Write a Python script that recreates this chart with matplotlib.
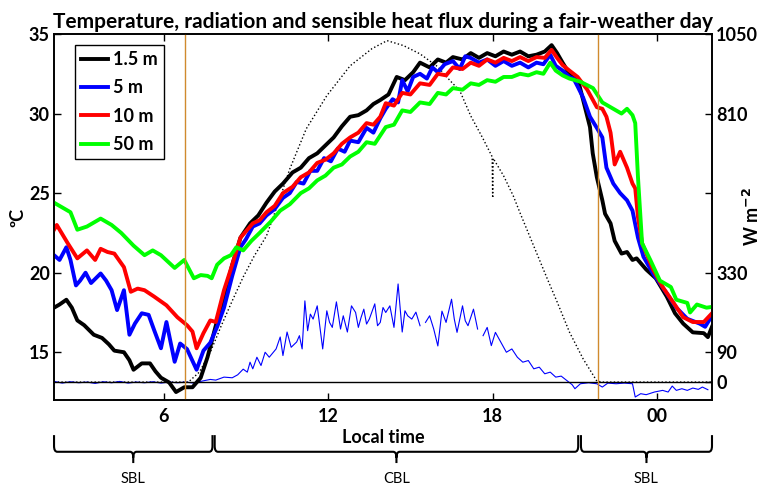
import numpy as np
import matplotlib
matplotlib.use('Agg')
import matplotlib.pyplot as plt
from matplotlib.path import Path
from matplotlib.patches import PathPatch
from matplotlib.transforms import blended_transform_factory

plt.rcParams['font.family'] = ['Lato', 'DejaVu Sans']

# --- Air temperature at four heights (hour, degC) ---
temp_15m = [(2.0, 17.8), (2.2, 18.0), (2.45, 18.3), (2.65, 17.8), (2.85, 17.0), (3.1, 16.7),
            (3.45, 16.1), (3.75, 15.9), (4.0, 15.5), (4.2, 15.1), (4.55, 15.0), (4.75, 14.5),
            (4.9, 13.9), (5.2, 14.3), (5.5, 14.3), (5.7, 13.8), (5.9, 13.4), (6.2, 13.1),
            (6.45, 12.5), (6.75, 12.8), (7.05, 12.8), (7.35, 13.4), (7.6, 14.7), (7.95, 17.0),
            (8.2, 18.5), (8.5, 20.5), (8.8, 22.2), (9.15, 23.1), (9.45, 23.6), (9.75, 24.4),
            (10.05, 25.1), (10.35, 25.6), (10.7, 26.3), (11.0, 26.6), (11.3, 27.2), (11.6, 27.5),
            (11.9, 28.0), (12.2, 28.5), (12.5, 29.2), (12.8, 29.8), (13.1, 29.9), (13.4, 30.2),
            (13.65, 30.6), (13.9, 30.85), (14.2, 31.2), (14.5, 32.3), (14.8, 32.1), (15.1, 32.6),
            (15.35, 33.2), (15.7, 32.9), (16.0, 33.4), (16.3, 33.2), (16.55, 33.55), (16.9, 33.4),
            (17.2, 33.8), (17.5, 33.5), (17.8, 33.8), (18.1, 33.6), (18.4, 33.9), (18.7, 33.7),
            (19.0, 33.9), (19.3, 33.6), (19.6, 33.7), (19.9, 33.9), (20.15, 34.3), (20.35, 33.8),
            (20.55, 33.2), (20.8, 32.5), (21.1, 32.2), (21.3, 30.85), (21.55, 29.15), (21.65, 27.5),
            (21.8, 26.0), (22.0, 24.55), (22.1, 23.7), (22.3, 23.1), (22.45, 22.0), (22.7, 21.2),
            (22.9, 21.3), (23.1, 20.8), (23.25, 20.9), (23.6, 20.2), (23.95, 19.65), (24.35, 18.5),
            (24.65, 17.45), (24.95, 16.8), (25.3, 16.25), (25.7, 16.2), (25.85, 15.95), (26.0, 16.6)]

temp_5m = [(2.0, 21.1), (2.2, 20.8), (2.45, 21.6), (2.6, 20.8), (2.8, 19.2), (2.95, 19.5),
           (3.15, 20.0), (3.35, 19.35), (3.7, 19.95), (3.9, 19.5), (4.1, 18.9), (4.3, 17.65),
           (4.55, 18.9), (4.75, 16.1), (4.95, 16.8), (5.2, 17.45), (5.45, 17.35), (5.65, 16.4),
           (5.9, 15.25), (6.1, 16.9), (6.4, 14.4), (6.6, 15.55), (6.85, 15.2), (7.2, 13.9),
           (7.45, 15.1), (7.7, 15.6), (7.95, 16.6), (8.2, 17.8), (8.5, 19.8), (8.8, 21.6),
           (9.0, 22.1), (9.25, 22.9), (9.5, 23.1), (9.75, 23.6), (10.05, 24.0), (10.35, 24.7),
           (10.6, 25.0), (10.85, 25.7), (11.1, 25.6), (11.35, 26.4), (11.6, 26.4), (11.85, 27.2),
           (12.1, 27.0), (12.35, 27.8), (12.6, 27.6), (12.8, 28.3), (13.1, 28.2), (13.4, 29.1),
           (13.65, 28.8), (13.9, 29.7), (14.1, 30.3), (14.35, 30.9), (14.55, 30.7), (14.7, 32.1),
           (14.9, 31.4), (15.1, 32.3), (15.35, 32.5), (15.6, 32.2), (15.8, 32.9), (16.0, 32.6),
           (16.25, 33.1), (16.55, 33.3), (16.8, 32.8), (17.0, 33.6), (17.2, 33.5), (17.5, 33.2),
           (17.8, 33.4), (18.1, 33.0), (18.4, 33.3), (18.7, 33.0), (19.0, 33.2), (19.3, 32.9),
           (19.6, 33.2), (19.85, 33.1), (20.1, 33.7), (20.3, 33.0), (20.55, 32.7), (20.8, 32.3),
           (20.95, 32.2), (21.1, 31.7), (21.3, 31.0), (21.55, 29.8), (21.8, 29.1), (22.0, 28.5),
           (22.15, 26.6), (22.4, 25.6), (22.65, 25.0), (22.9, 24.55), (23.1, 23.9), (23.3, 22.2),
           (23.5, 21.0), (23.85, 19.95), (24.35, 18.7), (24.7, 17.8), (25.1, 17.1), (25.55, 16.8),
           (25.75, 16.6), (26.0, 17.3)]

temp_10m = [(2.0, 22.7), (2.1, 23.0), (2.5, 21.85), (2.85, 20.9), (3.2, 21.4), (3.5, 20.8),
            (3.7, 21.5), (3.95, 21.3), (4.2, 21.2), (4.55, 20.35), (4.8, 18.8), (5.05, 19.0),
            (5.3, 18.9), (5.65, 18.5), (6.1, 17.95), (6.5, 17.2), (6.85, 16.7), (7.05, 16.3),
            (7.2, 15.25), (7.45, 16.2), (7.7, 17.0), (7.9, 16.9), (8.2, 18.9), (8.5, 20.5),
            (8.8, 22.2), (9.05, 22.7), (9.25, 23.1), (9.5, 23.3), (9.75, 23.8), (10.05, 24.2),
            (10.35, 25.0), (10.7, 25.4), (11.0, 26.0), (11.3, 26.3), (11.6, 26.9), (11.9, 27.1),
            (12.2, 27.5), (12.5, 28.1), (12.8, 28.5), (13.1, 28.8), (13.4, 29.4), (13.65, 29.3),
            (13.9, 29.8), (14.1, 30.65), (14.4, 30.5), (14.7, 31.3), (15.0, 31.2), (15.35, 31.9),
            (15.7, 31.8), (16.0, 32.5), (16.3, 32.4), (16.55, 32.9), (16.9, 32.8), (17.2, 33.2),
            (17.5, 33.0), (17.8, 33.4), (18.1, 33.2), (18.4, 33.5), (18.7, 33.3), (19.0, 33.55),
            (19.3, 33.3), (19.6, 33.55), (19.9, 33.5), (20.15, 34.0), (20.35, 33.5), (20.55, 33.05),
            (20.8, 32.7), (21.1, 32.3), (21.45, 31.5), (21.8, 30.4), (22.0, 30.3), (22.15, 29.8),
            (22.3, 28.8), (22.45, 26.8), (22.65, 27.6), (22.9, 26.6), (23.1, 25.6), (23.2, 25.3),
            (23.3, 23.5), (23.45, 21.85), (23.85, 20.2), (24.2, 19.1), (24.6, 18.1), (24.95, 17.2),
            (25.3, 16.9), (25.7, 16.9), (26.0, 17.45)]

temp_50m = [(2.0, 24.4), (2.3, 24.1), (2.6, 23.8), (2.85, 22.7), (3.2, 22.9), (3.7, 23.4),
            (4.1, 23.0), (4.45, 22.5), (4.9, 21.7), (5.3, 21.1), (5.6, 21.4), (5.9, 21.1),
            (6.4, 20.3), (6.75, 20.8), (7.1, 19.65), (7.35, 19.85), (7.6, 19.8), (7.75, 19.65),
            (7.95, 20.5), (8.2, 20.9), (8.45, 21.1), (8.65, 21.6), (8.9, 21.4), (9.2, 22.0),
            (9.5, 22.5), (9.9, 23.2), (10.25, 23.9), (10.6, 24.3), (11.0, 25.0), (11.3, 25.3),
            (11.6, 25.8), (11.9, 26.1), (12.2, 26.6), (12.5, 26.8), (12.8, 27.3), (13.1, 27.6),
            (13.4, 28.2), (13.7, 28.1), (14.1, 29.15), (14.4, 29.3), (14.7, 30.2), (15.0, 30.1),
            (15.35, 30.7), (15.7, 30.6), (16.0, 31.3), (16.3, 31.2), (16.55, 31.6), (16.9, 31.5),
            (17.2, 31.9), (17.5, 31.8), (17.8, 32.1), (18.1, 32.0), (18.4, 32.3), (18.7, 32.3),
            (19.0, 32.5), (19.3, 32.4), (19.6, 32.6), (19.85, 32.5), (20.1, 33.2), (20.3, 32.7),
            (20.55, 32.4), (20.8, 32.2), (21.2, 32.0), (21.66, 31.6), (22.0, 30.7), (22.5, 30.2),
            (22.7, 30.0), (22.9, 30.3), (23.1, 29.9), (23.2, 29.4), (23.3, 26.0), (23.45, 21.85),
            (23.75, 20.8), (24.1, 19.5), (24.5, 19.1), (24.7, 18.3), (25.1, 18.1), (25.2, 17.5),
            (25.45, 18.0), (25.8, 17.8), (26.0, 17.85)]

# --- Global radiation (hour, W m-2) ---
radiation = [(2.0, 0), (6.9, 0), (7.3, 30), (7.7, 90), (8.1, 170), (8.5, 245), (8.9, 317),
             (9.3, 380), (9.75, 441), (10.2, 545), (10.6, 643), (11.2, 764), (11.95, 864),
             (12.8, 954), (13.6, 1006), (14.15, 1030), (14.75, 1015), (15.35, 990), (16.0, 951),
             (16.45, 909), (16.8, 879), (17.2, 803), (17.65, 734), (17.98, 680), (18.0, 555),
             (18.02, 675), (18.4, 622), (18.75, 562), (19.0, 510), (19.5, 410), (20.0, 310),
             (20.35, 242), (20.8, 151), (21.3, 70), (21.8, 3), (22.0, 0), (26.0, 0)]

# --- Sensible heat flux (hour, W m-2), gaps as nan ---
heat_flux = [(2.0, 2), (2.3, -3), (2.6, 1), (2.9, -2), (3.2, 0), (3.5, -4), (3.8, 1), (4.1, -2),
             (4.4, 2), (4.7, -3), (5.0, 0), (5.3, -2), (5.6, 1), (5.9, -3), (6.2, 0), (6.5, -2),
             (6.8, 0), (7.1, -3), (7.4, 3), (7.7, 8), (7.9, 6), (8.2, 15), (8.5, 13), (8.7, 22),
             (8.9, 39), (9.05, 30), (9.15, 60), (9.25, 40), (9.4, 75), (9.55, 50), (9.7, 90),
             (9.85, 75), (10.1, 100), (10.25, 136), (10.35, 80), (10.5, 151), (10.65, 105),
             (10.85, 121), (10.95, 140), (11.05, 100), (11.15, 245), (11.25, 155), (11.35, 205),
             (11.45, 190), (11.6, 230), (11.8, 100), (11.95, 215), (12.05, 180), (12.15, 165),
             (12.3, 242), (12.45, 160), (12.55, 200), (12.7, 151), (12.85, 230), (13.0, 210),
             (13.1, 165), (13.2, 195), (13.3, 220), (13.4, 175), (13.5, 190), (13.7, 236),
             (13.8, 170), (13.9, 180), (14.0, 225), (14.1, 210), (14.25, 230), (14.4, 165),
             (14.55, 296), (14.7, 151), (14.8, 215), (14.9, 200), (15.05, 190), (15.2, 211),
             (15.35, 170), (15.45, np.nan), (15.55, 180), (15.7, 200), (15.85, 160), (16.0, 109),
             (16.15, 214), (16.3, 180), (16.5, 250), (16.6, 190), (16.7, 150), (16.9, 230),
             (17.0, 185), (17.1, 170), (17.3, 220), (17.45, 160), (17.55, np.nan), (17.65, 140),
             (17.8, 165), (17.95, 110), (18.1, 150), (18.3, 120), (18.5, 90), (18.7, 100),
             (18.9, 75), (19.1, 60), (19.3, 65), (19.5, 40), (19.7, 45), (19.9, 25), (20.1, 30),
             (20.3, 15), (20.5, 18), (20.7, 5), (20.9, -8), (21.0, -20), (21.2, -5), (21.5, -2),
             (21.8, -5), (22.0, -15), (22.2, -3), (22.5, -5), (22.8, -3), (23.1, -5), (23.2, -45),
             (23.4, -35), (23.6, -38), (23.9, -30), (24.2, -25), (24.4, -30), (24.55, -12),
             (24.7, -25), (24.9, -20), (25.1, -25), (25.3, -18), (25.5, -22), (25.65, -15),
             (25.85, -23)]

heights = ['1.5 m', '5 m', '10 m', '50 m']
colors = ['#000000', '#0000FF', '#FF0000', '#00FF00']
sunrise, sunset = 6.78, 21.84

x_ticks = [6, 12, 18, 24]
x_tick_labels = ['6', '12', '18', '00']
left_ticks = [15, 20, 25, 30, 35]
right_ticks = [0, 90, 330, 570, 810, 1050]
right_tick_labels = ['0', '90', '330', '', '810', '1050']

# boundary-layer regimes along the time axis
regimes = [(2.0, 7.78, 'SBL'), (7.86, 21.12, 'CBL'), (21.22, 26.0, 'SBL')]

# --- Plotting ---
fig = plt.figure(figsize=(7.61, 4.90), dpi=100)
ax = fig.add_axes([0.071, 0.1837, 0.8646, 0.7469])
ax2 = ax.twinx()

t, q = np.array(radiation, dtype=float).T
ax2.plot(t, q, color='k', linestyle=':', linewidth=1.0)
t, q = np.array(heat_flux, dtype=float).T
ax2.plot(t, q, color='#0000FF', linewidth=0.8)
ax2.axhline(0, color='k', linewidth=1.0)

for series, color, label in zip([temp_15m, temp_5m, temp_10m, temp_50m], colors, heights):
    t, temp = np.array(series).T
    ax.plot(t, temp, color=color, linewidth=2.8, label=label)

for hour in (sunrise, sunset):
    ax.axvline(hour, color='#D08A2E', linewidth=1.0)

# temperatures drawn over the flux axis
ax.set_zorder(ax2.get_zorder() + 1)
ax.patch.set_visible(False)

ax.set_xlim(2, 26)
ax.set_ylim(12, 35)
ax2.set_ylim(-54, 1050)

ax.set_xticks(x_ticks)
ax.set_xticklabels(x_tick_labels)
ax.set_yticks(left_ticks)
ax2.set_yticks(right_ticks)
ax2.set_yticklabels(right_tick_labels)

ax.tick_params(axis='x', top=True, direction='in', length=5, width=1, pad=6)
ax.tick_params(axis='y', direction='in', length=5, width=1, pad=3)
ax2.tick_params(axis='y', direction='in', length=5, width=1, pad=3)
for a in (ax, ax2):
    for lbl in a.get_xticklabels() + a.get_yticklabels():
        lbl.set_fontweight('bold')
        lbl.set_fontsize(13)
    for spine in a.spines.values():
        spine.set_linewidth(1.2)

ax.set_title('Temperature, radiation and sensible heat flux during a fair-weather day',
             fontsize=15, fontweight='bold', pad=4)
ax.set_xlabel('Local time', fontsize=13, fontweight='bold', labelpad=3)
ax.set_ylabel('ºC', fontsize=13, fontweight='bold', labelpad=2)
ax2.set_ylabel(r'W m$^{\mathbf{-2}}$', fontsize=13, fontweight='bold')
ax2.yaxis.set_label_coords(1.045, 0.5)

leg = ax.legend(loc='upper left', bbox_to_anchor=(0.032, 0.97), borderaxespad=0,
                fancybox=False, edgecolor='k', framealpha=1, handlelength=1.5,
                handletextpad=0.25, labelspacing=0.62, borderpad=0.35,
                prop={'weight': 'bold', 'size': 13})
leg.get_frame().set_linewidth(1.0)

# --- Regime braces below the time axis ---
trans = blended_transform_factory(ax.transData, fig.transFigure)
y_top, y_bar, y_tip = 0.112, 0.078, 0.055
rx, ry = 0.12, 0.012
for x0, x1, name in regimes:
    xm = 0.5 * (x0 + x1)
    verts = [(x0, y_top), (x0, y_bar + ry), (x0, y_bar), (x0 + rx, y_bar),
             (xm - rx, y_bar), (xm, y_bar), (xm, y_bar - ry), (xm, y_tip),
             (xm, y_bar - ry), (xm, y_bar), (xm + rx, y_bar),
             (x1 - rx, y_bar), (x1, y_bar), (x1, y_bar + ry), (x1, y_top)]
    codes = [Path.MOVETO, Path.LINETO, Path.CURVE3, Path.CURVE3,
             Path.LINETO, Path.CURVE3, Path.CURVE3, Path.LINETO,
             Path.MOVETO, Path.CURVE3, Path.CURVE3,
             Path.LINETO, Path.CURVE3, Path.CURVE3, Path.LINETO]
    brace = PathPatch(Path(verts, codes), transform=trans, facecolor='none',
                      edgecolor='k', linewidth=1.5, clip_on=False)
    fig.add_artist(brace)
    fig.text(xm, 0.022, name, transform=trans, ha='center', va='center', fontsize=10.5)

fig.savefig('out.png', dpi=100)
